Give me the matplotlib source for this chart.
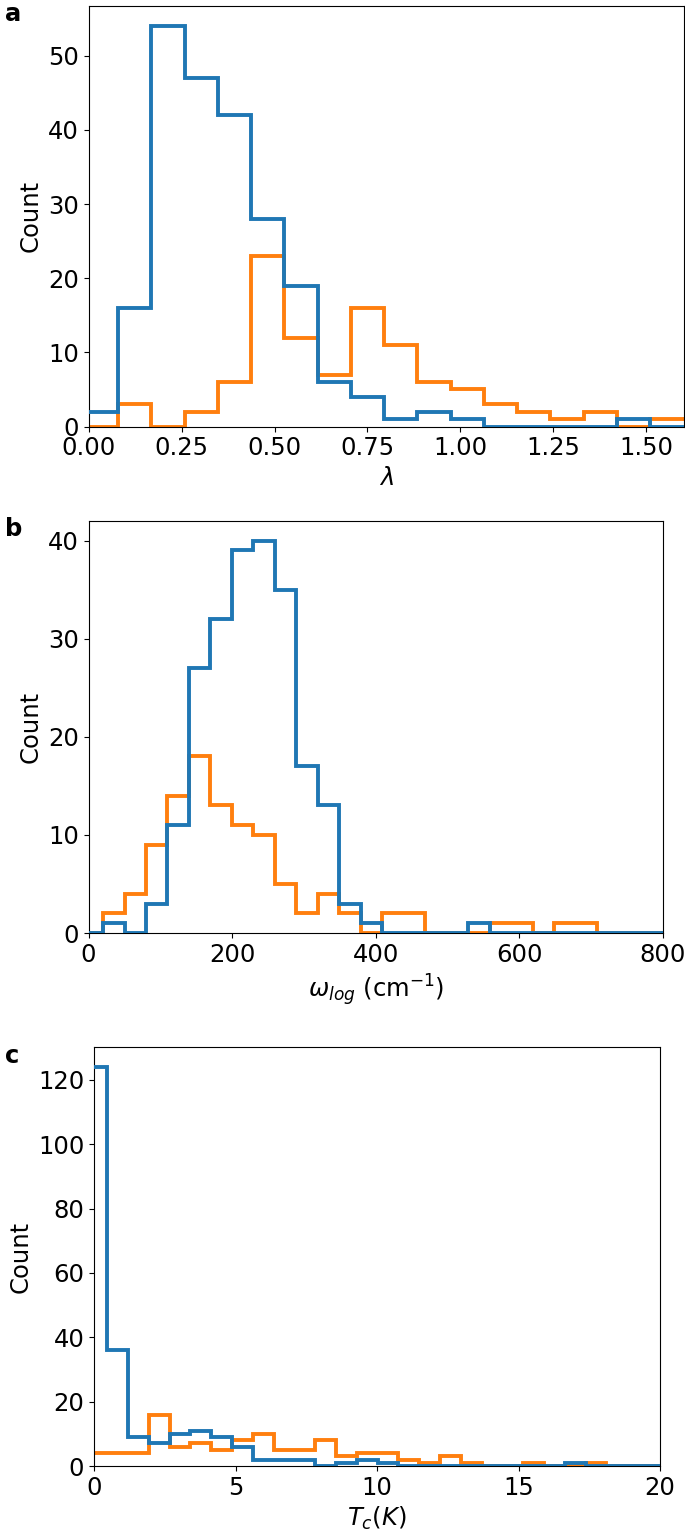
import matplotlib
matplotlib.use("Agg")
import matplotlib.pyplot as plt
import numpy as np

# ---------------- data ----------------
lam_edges = [-0.011, 0.079, 0.168, 0.258, 0.347, 0.437, 0.526, 0.616, 0.705, 0.795,
             0.884, 0.974, 1.063, 1.153, 1.242, 1.332, 1.421, 1.511, 1.600, 1.689]
lam_blue = [2, 16, 54, 47, 42, 28, 19, 6, 4, 1, 2, 1, 0, 0, 0, 0, 1, 0, 0]
lam_orange = [0, 3, 0, 2, 6, 23, 12, 7, 16, 11, 6, 5, 3, 2, 1, 2, 0, 1, 1]

w_edges = [-9.6, 20.3, 50.2, 80.1, 110.0, 139.9, 169.8, 199.7, 229.6, 259.5, 289.4,
           319.3, 349.2, 379.1, 409.0, 438.9, 468.8, 498.7, 528.6, 558.5, 588.4,
           618.3, 648.2, 678.1, 708.0, 737.9, 767.8, 797.7, 827.6]
w_blue = [0, 1, 0, 3, 11, 27, 32, 39, 40, 35, 17, 13, 3, 1, 0, 0, 0, 0, 1, 0,
          0, 0, 0, 0, 0, 0, 0, 0]
w_orange = [0, 2, 4, 9, 14, 18, 13, 11, 10, 5, 2, 4, 2, 0, 2, 2, 0, 0, 0, 1,
            1, 0, 1, 1, 0, 0, 0, 0]

tc_edges = [-0.27, 0.465, 1.2, 1.935, 2.67, 3.405, 4.14, 4.875, 5.61, 6.345, 7.08,
            7.815, 8.55, 9.285, 10.02, 10.755, 11.49, 12.225, 12.96, 13.695, 14.43,
            15.165, 15.9, 16.635, 17.37, 18.105, 18.84, 19.575, 20.31]
tc_blue = [124, 36, 9, 7, 10, 11, 9, 6, 2, 2, 2, 0, 1, 2, 1, 0, 0, 0, 0, 0,
           0, 0, 0, 1, 0, 0, 0, 0]
tc_orange = [4, 4, 4, 16, 6, 7, 5, 8, 10, 5, 5, 8, 3, 4, 4, 2, 1, 3, 1, 0,
             0, 1, 0, 0, 1, 0, 0, 0]

panel_labels = ["a", "b", "c"]
xlabels = [r"$\lambda$", r"$\omega_{log}$ (cm$^{-1}$)", r"$T_c(K)$"]
xlims = [(0, 1.6), (0, 800), (0, 20)]
xticks = [[0.0, 0.25, 0.5, 0.75, 1.0, 1.25, 1.5], [0, 200, 400, 600, 800], [0, 5, 10, 15, 20]]
xticklabels = [["0.00", "0.25", "0.50", "0.75", "1.00", "1.25", "1.50"],
               ["0", "200", "400", "600", "800"], ["0", "5", "10", "15", "20"]]

BLUE = "#1f77b4"
ORANGE = "#ff7f0e"
FS = 17.5

W, H = 685, 1530
fig = plt.figure(figsize=(W / 100, H / 100), dpi=100)

# axes boxes in pixels: left, right, top, bottom
boxes = [(88.6, 683.5, 6, 426.5), (88.5, 663, 521, 933), (94, 660, 1047, 1466)]
label_tops = [2, 517, 1044]

data = [(lam_edges, lam_blue, lam_orange),
        (w_edges, w_blue, w_orange),
        (tc_edges, tc_blue, tc_orange)]

for i, ((l, r, t, b), (edges, blue, orange)) in enumerate(zip(boxes, data)):
    ax = fig.add_axes([l / W, 1 - b / H, (r - l) / W, (b - t) / H])
    ax.stairs(orange, edges, color=ORANGE, linewidth=2.8, baseline=0, zorder=2)
    ax.stairs(blue, edges, color=BLUE, linewidth=2.8, baseline=0, zorder=3)
    ax.set_xlim(*xlims[i])
    ymax = max(max(blue), max(orange)) * 1.05
    ax.set_ylim(0, ymax)
    ax.set_xticks(xticks[i])
    ax.set_xticklabels(xticklabels[i])
    ax.tick_params(labelsize=FS)
    ax.set_xlabel(xlabels[i], fontsize=FS)
    ax.set_ylabel("Count", fontsize=FS)
    fig.text(5 / W, 1 - label_tops[i] / H, panel_labels[i], fontsize=FS,
             fontweight="bold", ha="left", va="top")

fig.savefig("out.png", dpi=100)
